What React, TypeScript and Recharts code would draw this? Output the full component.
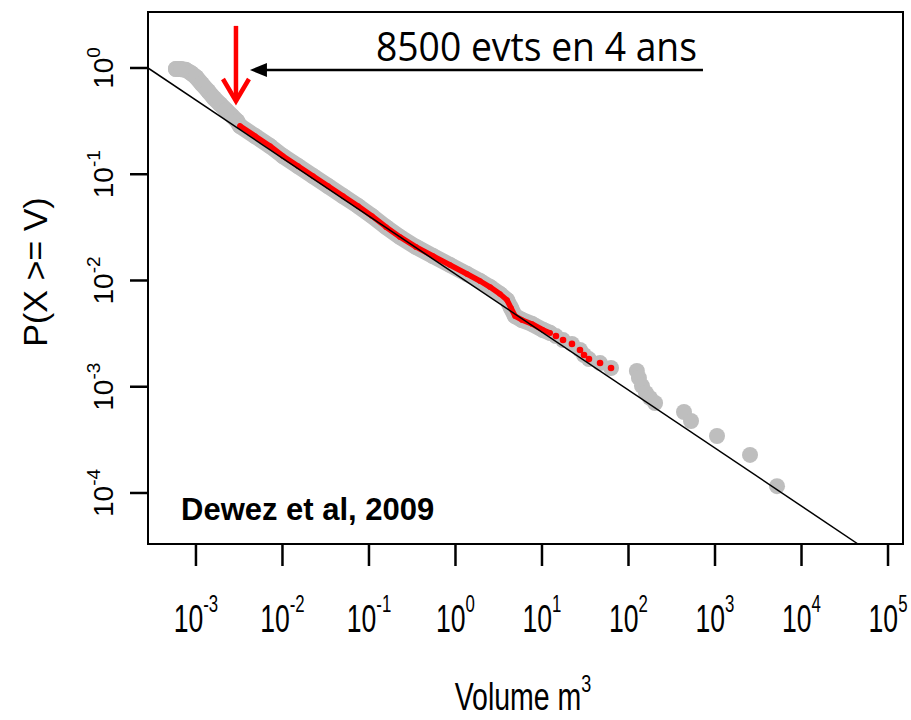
import { ScatterChart, Scatter, XAxis, YAxis, ReferenceArea, ReferenceLine } from 'recharts';

// [volume m3, P(X >= V)]
const grayHead: [number, number][] = [
  [5.87e-4, 0.978], [6.71e-4, 0.978], [7.66e-4, 0.958], [8.75e-4, 0.897],
  [1.0e-3, 0.823], [1.17e-3, 0.707], [1.38e-3, 0.607], [1.61e-3, 0.522],
  [1.89e-3, 0.458], [2.22e-3, 0.402], [2.61e-3, 0.353], [2.98e-3, 0.317],
];

const fittedBody: [number, number][] = [
  [3.23e-3, 0.2845], [4.81e-3, 0.2291], [7.16e-3, 0.1844], [1.01e-2, 0.1485],
  [1.51e-2, 0.1196], [2.25e-2, 0.0963], [3.36e-2, 0.0775], [5.0e-2, 0.0624],
  [7.46e-2, 0.0503], [0.108, 0.0405], [0.157, 0.0319], [0.228, 0.0257],
  [0.349, 0.0207], [0.549, 0.017], [0.864, 0.014], [1.36, 0.0115],
  [1.92, 0.00989], [2.51, 0.00868], [3.27, 0.00746], [3.94, 0.00655],
  [4.38, 0.00551], [4.88, 0.00463], [5.87, 0.00425], [7.66, 0.0039],
  [10.3, 0.00342], [12.4, 0.00321],
];

const fittedTail: [number, number][] = [
  [14.5, 0.003], [17.5, 0.00275], [22.2, 0.00253], [27.5, 0.00222],
  [30.6, 0.00199], [34.9, 0.00182], [46.9, 0.00167], [62.8, 0.0015],
];

const grayTail: [number, number][] = [
  [125, 0.00141], [132, 0.00121], [143, 0.00102], [159, 0.000873],
  [177, 0.000784], [203, 0.000703], [438, 0.000578], [528, 0.000476],
  [1055, 0.000344], [2540, 0.000228], [5210, 0.000116],
];

const fitLine: [number, number][] = [[2.79e-4, 1], [4.5e4, 3.31e-5]];

const xTicks = [1e-3, 1e-2, 1e-1, 1, 1e1, 1e2, 1e3, 1e4, 1e5];
const yTicks = [1, 1e-1, 1e-2, 1e-3, 1e-4];
const X_DOMAIN: [number, number] = [2.79e-4, 1.49e5];
const Y_DOMAIN: [number, number] = [3.31e-5, 3.365];

const redArrow: [number, number][] = [[2.9e-3, 2.49], [2.9e-3, 0.489]];
const blackArrow: [number, number][] = [[726, 0.958], [4.21e-3, 0.958]];

const toPts = (a: [number, number][]) => a.map(([v, p]) => ({ v, p }));

const GRAY = '#bebebe';
const RED = '#ff0000';

function XTick({ x, y, payload }: any) {
  const e = Math.round(Math.log10(payload.value));
  return (
    <g transform={`translate(${x},${y + 64})`}>
      <text transform="scale(0.7,1)" textAnchor="middle" fontSize={38} fill="#000">
        10<tspan dy={-20} fontSize={24}>{e}</tspan>
      </text>
    </g>
  );
}

function YTick({ x, y, payload }: any) {
  const e = Math.round(Math.log10(payload.value));
  return (
    <g transform={`translate(${x - 15},${y}) rotate(-90)`}>
      <text textAnchor="middle" fontSize={28} fill="#000">
        10<tspan dy={-13} fontSize={19}>{e}</tspan>
      </text>
    </g>
  );
}

const bigDot = (p: any) => <circle cx={p.cx} cy={p.cy} r={8} fill={GRAY} />;
const smallDot = (p: any) => <circle cx={p.cx} cy={p.cy} r={3.3} fill={RED} />;
const bodyDot = (p: any) => <circle cx={p.cx} cy={p.cy} r={2.8} fill={RED} />;
const noDot = () => <g />;

function RedArrowShape({ x1, y1, x2, y2 }: any) {
  const d = Math.sign(y2 - y1) || 1;
  return (
    <g stroke={RED} strokeWidth={4.5} fill="none">
      <line x1={x1} y1={y1} x2={x2} y2={y2 - d * 2} />
      <polyline points={`${x2 - 13},${y2 - d * 22} ${x2},${y2} ${x2 + 13},${y2 - d * 22}`} strokeLinejoin="miter" />
    </g>
  );
}

function BlackArrowShape({ x1, y1, x2, y2 }: any) {
  const d = Math.sign(x2 - x1) || -1;
  return (
    <g>
      <line x1={x1} y1={y1} x2={x2 - d * 10} y2={y2} stroke="#000" strokeWidth={2.5} />
      <polygon points={`${x2},${y2} ${x2 - d * 17},${y2 - 7} ${x2 - d * 17},${y2 + 7}`} fill="#000" />
      <text x={x1 - 6} y={y1 - 9} textAnchor="end" fontFamily="'Open Sans', sans-serif" fontSize={41}
        textLength={321} lengthAdjust="spacingAndGlyphs" fill="#000">8500 evts en 4 ans</text>
    </g>
  );
}

export default function App() {
  return (
    <div style={{ position: 'absolute', left: 0, top: 0, fontFamily: "'Liberation Sans', Arial, sans-serif", background: '#fff' }}>
      <ScatterChart width={911} height={720} margin={{ top: 12, right: 8, bottom: 0, left: 0 }}>
        <XAxis type="number" dataKey="v" scale="log" domain={X_DOMAIN} allowDataOverflow ticks={xTicks}
          interval={0} tick={<XTick />} tickSize={22} tickLine={{ stroke: '#000', strokeWidth: 2.5 }}
          axisLine={false} height={176} />
        <YAxis type="number" dataKey="p" scale="log" domain={Y_DOMAIN} allowDataOverflow ticks={yTicks}
          interval={0} tick={<YTick />} tickSize={18} tickLine={{ stroke: '#000', strokeWidth: 2.5 }}
          axisLine={false} width={148} />
        <ReferenceArea x1={X_DOMAIN[0]} x2={X_DOMAIN[1]} y1={Y_DOMAIN[0]} y2={Y_DOMAIN[1]}
          fill="none" stroke="#000" strokeWidth={2} ifOverflow="visible" />

        <Scatter data={toPts([...grayHead, ...fittedBody])} shape={bigDot} isAnimationActive={false}
          line={{ stroke: GRAY, strokeWidth: 16, strokeLinecap: 'round', strokeLinejoin: 'round' }} />
        <Scatter data={toPts([...fittedTail, ...grayTail])} shape={bigDot} isAnimationActive={false} />
        <Scatter data={toPts(fittedBody)} shape={bodyDot} isAnimationActive={false}
          line={{ stroke: RED, strokeWidth: 5.5, strokeLinecap: 'round', strokeLinejoin: 'round' }} />
        <Scatter data={toPts(fittedTail)} shape={smallDot} isAnimationActive={false} />
        <Scatter data={toPts(fitLine)} shape={noDot} isAnimationActive={false}
          line={{ stroke: '#000', strokeWidth: 1.5 }} />

        <ReferenceLine segment={toPts(redArrow).map((d) => ({ x: d.v, y: d.p }))} ifOverflow="visible" shape={RedArrowShape} />
        <ReferenceLine segment={toPts(blackArrow).map((d) => ({ x: d.v, y: d.p }))} ifOverflow="visible" shape={BlackArrowShape} />

        <text x={181} y={520} fontWeight="bold" fontSize={31} fill="#000">Dewez et al, 2009</text>
        <text transform="translate(47,272) rotate(-90)" textAnchor="middle" fontSize={34} fill="#000">P(X &gt;= V)</text>
        <g transform="translate(523,710)">
          <text transform="scale(0.75,1)" textAnchor="middle" fontSize={38} fill="#000">
            Volume m<tspan dy={-18} fontSize={24}>3</tspan>
          </text>
        </g>
      </ScatterChart>
    </div>
  );
}
